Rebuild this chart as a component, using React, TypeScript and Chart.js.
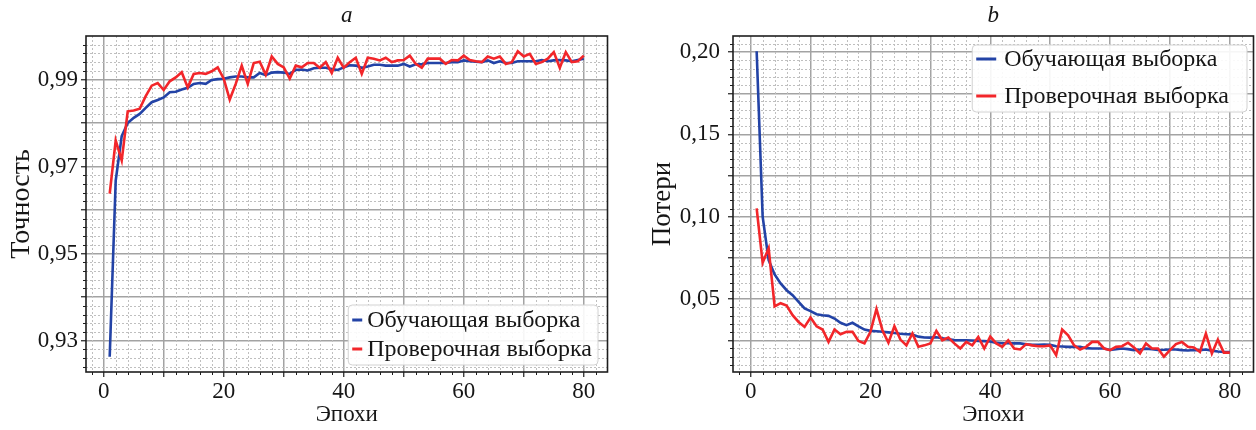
import React, { useEffect, useRef } from "react";
import { Chart, registerables } from "chart.js";

Chart.register(...registerables);

const SERIF = "'Liberation Serif', 'Times New Roman', Times, serif";
const TEXT = "#161616";
const BLUE = "#2343a6";
const RED = "#f2262a";
const MAJOR_GRID = "#a3a3a3";
const MINOR_GRID = "#bfbfbf";
const AXIS = "#1e1e1e";

const epochs = [
  1, 2, 3, 4, 5, 6, 7, 8, 9, 10, 11, 12, 13, 14, 15, 16, 17, 18, 19, 20,
  21, 22, 23, 24, 25, 26, 27, 28, 29, 30, 31, 32, 33, 34, 35, 36, 37, 38, 39, 40,
  41, 42, 43, 44, 45, 46, 47, 48, 49, 50, 51, 52, 53, 54, 55, 56, 57, 58, 59, 60,
  61, 62, 63, 64, 65, 66, 67, 68, 69, 70, 71, 72, 73, 74, 75, 76, 77, 78, 79, 80,
];

const seriesLabels = ["Обучающая выборка", "Проверочная выборка"];

const accTrain = [
  0.9263, 0.9668, 0.977, 0.98, 0.9812, 0.9821, 0.9835, 0.9848, 0.9853, 0.9859,
  0.9871, 0.9872, 0.9877, 0.9881, 0.989, 0.9892, 0.989, 0.9899, 0.9901, 0.9902,
  0.9905, 0.9907, 0.9907, 0.9905, 0.9905, 0.9915, 0.991, 0.9916, 0.9917, 0.9916,
  0.9913, 0.9922, 0.9923, 0.9921, 0.9926, 0.9927, 0.9927, 0.9924, 0.9922, 0.9928,
  0.9933, 0.9932, 0.9927, 0.993, 0.9934, 0.9934, 0.9932, 0.9932, 0.9932, 0.9936,
  0.993, 0.9935, 0.9935, 0.9938, 0.9938, 0.9938, 0.9938, 0.994, 0.994, 0.9944,
  0.9942, 0.9941, 0.994, 0.9944, 0.9938, 0.9942, 0.9938, 0.9938, 0.9942, 0.9942,
  0.9942, 0.9942, 0.9945, 0.9942, 0.9944, 0.9945, 0.9944, 0.9942, 0.9945, 0.9948,
];

const accVal = [
  0.9638, 0.976, 0.9714, 0.9827, 0.9829, 0.9833, 0.9862, 0.9886, 0.9892, 0.9876,
  0.9896, 0.9905, 0.9917, 0.9882, 0.9913, 0.9915, 0.9913, 0.9919, 0.9928, 0.9902,
  0.9854, 0.989, 0.9932, 0.989, 0.9938, 0.9941, 0.9911, 0.9953, 0.9936, 0.9928,
  0.9902, 0.9932, 0.9928, 0.9938, 0.9938, 0.9927, 0.994, 0.9915, 0.995, 0.9927,
  0.994, 0.995, 0.9913, 0.995, 0.9948, 0.9944, 0.995, 0.994, 0.9944, 0.9945,
  0.9955, 0.9936, 0.9927, 0.9948, 0.9948, 0.9948, 0.9936, 0.9945, 0.9944, 0.9955,
  0.9945, 0.9942, 0.994, 0.9953, 0.9948, 0.9953, 0.9936, 0.994, 0.9965, 0.9953,
  0.9959, 0.9936, 0.994, 0.9948, 0.9963, 0.9927, 0.9963, 0.994, 0.9942, 0.9955,
];

const lossTrain = [
  0.2005, 0.1, 0.0737, 0.065, 0.0595, 0.0554, 0.0524, 0.0483, 0.0443, 0.0427,
  0.0408, 0.0402, 0.0398, 0.0382, 0.0356, 0.0342, 0.0356, 0.0335, 0.0315, 0.0307,
  0.0305, 0.0302, 0.0298, 0.0294, 0.029, 0.0287, 0.0285, 0.0272, 0.0267, 0.0266,
  0.0268, 0.0262, 0.0256, 0.0251, 0.025, 0.025, 0.0249, 0.0246, 0.0245, 0.0242,
  0.0234, 0.0232, 0.0232, 0.0231, 0.0231, 0.0225, 0.0222, 0.0222, 0.0224, 0.0222,
  0.0214, 0.0212, 0.021, 0.021, 0.021, 0.0202, 0.02, 0.02, 0.02, 0.0191,
  0.0195, 0.02, 0.0196, 0.019, 0.0194, 0.0199, 0.0195, 0.0191, 0.0192, 0.0194,
  0.0194, 0.019, 0.0188, 0.0191, 0.019, 0.0194, 0.0187, 0.0182, 0.0179, 0.0179,
];

const lossVal = [
  0.1051, 0.072, 0.0808, 0.0455, 0.0475, 0.0461, 0.0402, 0.0361, 0.0331, 0.0388,
  0.0335, 0.0315, 0.024, 0.0315, 0.0287, 0.0301, 0.0301, 0.0246, 0.0231, 0.0301,
  0.044, 0.0311, 0.0235, 0.0335, 0.0254, 0.0219, 0.0291, 0.021, 0.0219, 0.0231,
  0.0307, 0.025, 0.0266, 0.0231, 0.02, 0.024, 0.0219, 0.027, 0.02, 0.0272,
  0.0231, 0.021, 0.025, 0.02, 0.0194, 0.0227, 0.0219, 0.0214, 0.0214, 0.0219,
  0.016, 0.0315, 0.028, 0.0219, 0.0194, 0.021, 0.024, 0.024, 0.02, 0.019,
  0.021, 0.0214, 0.0235, 0.0206, 0.017, 0.0231, 0.02, 0.02, 0.015, 0.019,
  0.0227, 0.024, 0.021, 0.0206, 0.0179, 0.0291, 0.017, 0.0254, 0.0175, 0.0175,
];

const xMajorTicks = [0, 10, 20, 30, 40, 50, 60, 70, 80];
const xLabelTicks = [0, 20, 40, 60, 80];
const accMajorTicks = [0.93, 0.94, 0.95, 0.96, 0.97, 0.98, 0.99];
const accLabelTicks = [0.93, 0.95, 0.97, 0.99];
const lossMajorTicks = [0.025, 0.05, 0.075, 0.1, 0.125, 0.15, 0.175, 0.2];
const lossLabelTicks = [0.05, 0.1, 0.15, 0.2];

function paddedRange(arrays: number[][]) {
  let lo = Infinity;
  let hi = -Infinity;
  arrays.forEach((arr) =>
    arr.forEach((v) => {
      if (v < lo) lo = v;
      if (v > hi) hi = v;
    })
  );
  const m = (hi - lo) * 0.05;
  return { min: lo - m, max: hi + m };
}

const has = (list: number[], v: number) => list.some((t) => Math.abs(t - v) < 1e-9);
const commaFmt = (v: number) => v.toFixed(2).replace(".", ",");

const gridPlugin = {
  id: "mplGrid",
  beforeDatasetsDraw(chart: any, _a: any, o: any) {
    const { ctx, chartArea: a, scales } = chart;
    const x = scales.x;
    const y = scales.y;
    const isMajor = (v: number, step: number) => Math.abs(v / step - Math.round(v / step)) < 1e-6;
    ctx.save();
    ctx.beginPath();
    ctx.rect(a.left, a.top, a.width, a.height);
    ctx.clip();
    ctx.strokeStyle = MINOR_GRID;
    ctx.lineWidth = 1;
    ctx.setLineDash([2, 2]);
    const kx0 = Math.ceil(x.min / o.xMinor - 1e-9);
    const kx1 = Math.floor(x.max / o.xMinor + 1e-9);
    for (let k = kx0; k <= kx1; k++) {
      const v = k * o.xMinor;
      if (isMajor(v, o.xMajor)) continue;
      const px = Math.round(x.getPixelForValue(v)) + 0.5;
      ctx.beginPath();
      ctx.moveTo(px, a.top);
      ctx.lineTo(px, a.bottom);
      ctx.stroke();
    }
    const ky0 = Math.ceil(y.min / o.yMinor - 1e-9);
    const ky1 = Math.floor(y.max / o.yMinor + 1e-9);
    for (let k = ky0; k <= ky1; k++) {
      const v = k * o.yMinor;
      if (isMajor(v, o.yMajor)) continue;
      const py = Math.round(y.getPixelForValue(v)) + 0.5;
      ctx.beginPath();
      ctx.moveTo(a.left, py);
      ctx.lineTo(a.right, py);
      ctx.stroke();
    }
    ctx.restore();
  },
  afterDraw(chart: any, _a: any, o: any) {
    const { ctx, chartArea: a, scales } = chart;
    const x = scales.x;
    const y = scales.y;
    const isMajor = (v: number, step: number) => Math.abs(v / step - Math.round(v / step)) < 1e-6;
    ctx.save();
    ctx.strokeStyle = AXIS;
    ctx.lineWidth = 1;
    const kx0 = Math.ceil(x.min / o.xMinor - 1e-9);
    const kx1 = Math.floor(x.max / o.xMinor + 1e-9);
    for (let k = kx0; k <= kx1; k++) {
      const v = k * o.xMinor;
      if (isMajor(v, o.xMajor)) continue;
      const px = Math.round(x.getPixelForValue(v)) + 0.5;
      ctx.beginPath();
      ctx.moveTo(px, a.bottom);
      ctx.lineTo(px, a.bottom + 3);
      ctx.stroke();
    }
    const ky0 = Math.ceil(y.min / o.yMinor - 1e-9);
    const ky1 = Math.floor(y.max / o.yMinor + 1e-9);
    for (let k = ky0; k <= ky1; k++) {
      const v = k * o.yMinor;
      if (isMajor(v, o.yMajor)) continue;
      const py = Math.round(y.getPixelForValue(v)) + 0.5;
      ctx.beginPath();
      ctx.moveTo(a.left - 3, py);
      ctx.lineTo(a.left, py);
      ctx.stroke();
    }
    ctx.lineWidth = 1.6;
    ctx.strokeStyle = AXIS;
    ctx.strokeRect(a.left, a.top, a.right - a.left, a.bottom - a.top);
    ctx.restore();
  },
};

const legendPlugin = {
  id: "boxLegend",
  afterDraw(chart: any, _a: any, o: any) {
    const { ctx, chartArea: a } = chart;
    const ds = chart.data.datasets;
    ctx.save();
    ctx.font = `${o.fontSize}px ${SERIF}`;
    let textW = 0;
    ds.forEach((d: any) => {
      textW = Math.max(textW, ctx.measureText(d.label).width);
    });
    const w = o.padLeft + o.markerLen + o.gap + textW + o.padRight;
    const h = o.padTop + o.rowGap * (ds.length - 1) + o.padBottom;
    const right = a.right - o.offsetRight;
    const left = right - w;
    const top = o.anchor === "top" ? a.top + o.offsetY : a.bottom - o.offsetY - h;
    const r = 4;
    ctx.beginPath();
    ctx.moveTo(left + r, top);
    ctx.lineTo(right - r, top);
    ctx.quadraticCurveTo(right, top, right, top + r);
    ctx.lineTo(right, top + h - r);
    ctx.quadraticCurveTo(right, top + h, right - r, top + h);
    ctx.lineTo(left + r, top + h);
    ctx.quadraticCurveTo(left, top + h, left, top + h - r);
    ctx.lineTo(left, top + r);
    ctx.quadraticCurveTo(left, top, left + r, top);
    ctx.closePath();
    ctx.fillStyle = "rgba(255,255,255,0.9)";
    ctx.fill();
    ctx.strokeStyle = "#d2d2d2";
    ctx.lineWidth = 1;
    ctx.stroke();
    ds.forEach((d: any, i: number) => {
      const cy = top + o.padTop + o.rowGap * i;
      ctx.strokeStyle = d.borderColor;
      ctx.lineWidth = 3;
      ctx.beginPath();
      ctx.moveTo(left + o.padLeft, cy);
      ctx.lineTo(left + o.padLeft + o.markerLen, cy);
      ctx.stroke();
      ctx.fillStyle = TEXT;
      ctx.textBaseline = "middle";
      ctx.textAlign = "left";
      ctx.fillText(d.label, left + o.padLeft + o.markerLen + o.gap, cy + 1);
    });
    ctx.restore();
  },
};

type Spec = {
  title: string;
  yTitle: string;
  train: number[];
  val: number[];
  yMajor: number[];
  yLabels: number[];
  yMajorStep: number;
  yMinorStep: number;
  yAxisWidth: number;
  yTitleSize: number;
  yTitlePad: number;
  yTickPad: number;
  padRight: number;
  legend: any;
};

function buildConfig(spec: Spec): any {
  const xr = paddedRange([epochs]);
  const yr = paddedRange([spec.train, spec.val]);
  const font = { family: SERIF, size: 23, weight: "normal" as const };
  return {
    type: "line",
    data: {
      datasets: [
        {
          label: seriesLabels[0],
          data: epochs.map((e, i) => ({ x: e, y: spec.train[i] })),
          borderColor: BLUE,
          backgroundColor: BLUE,
          borderWidth: 2.6,
          pointRadius: 0,
          tension: 0,
          order: 1,
        },
        {
          label: seriesLabels[1],
          data: epochs.map((e, i) => ({ x: e, y: spec.val[i] })),
          borderColor: RED,
          backgroundColor: RED,
          borderWidth: 2.6,
          pointRadius: 0,
          tension: 0,
          order: 0,
        },
      ],
    },
    options: {
      responsive: false,
      animation: false,
      events: [],
      layout: { padding: { left: 0, right: spec.padRight, top: 0, bottom: 0 } },
      plugins: {
        legend: { display: false },
        tooltip: { enabled: false },
        title: {
          display: true,
          text: spec.title,
          fullSize: false,
          color: TEXT,
          font: { family: SERIF, size: 23, style: "italic", weight: "normal" },
          padding: { top: 2, bottom: 6.4 },
        },
        mplGrid: { xMinor: 2, xMajor: 10, yMinor: spec.yMinorStep, yMajor: spec.yMajorStep },
        boxLegend: spec.legend,
      },
      scales: {
        x: {
          type: "linear",
          min: xr.min,
          max: xr.max,
          afterBuildTicks: (s: any) => {
            s.ticks = xMajorTicks.map((v) => ({ value: v }));
          },
          afterFit: (s: any) => {
            s.height = 58;
          },
          ticks: {
            autoSkip: false,
            maxRotation: 0,
            padding: 1,
            color: TEXT,
            font,
            callback: (v: number) => (has(xLabelTicks, v) ? String(v) : ""),
          },
          grid: { color: MAJOR_GRID, lineWidth: 1.5, tickLength: 5, tickColor: AXIS, tickWidth: 1.2 },
          border: { display: false },
          title: { display: true, text: "Эпохи", color: TEXT, font, padding: { top: 0, bottom: 1 } },
        },
        y: {
          type: "linear",
          min: yr.min,
          max: yr.max,
          afterBuildTicks: (s: any) => {
            s.ticks = spec.yMajor.map((v) => ({ value: v }));
          },
          afterFit: (s: any) => {
            s.width = spec.yAxisWidth;
          },
          ticks: {
            autoSkip: false,
            padding: spec.yTickPad,
            color: TEXT,
            font,
            callback: (v: number) => (has(spec.yLabels, v) ? commaFmt(v) : ""),
          },
          grid: { color: MAJOR_GRID, lineWidth: 1.5, tickLength: 5, tickColor: AXIS, tickWidth: 1.2 },
          border: { display: false },
          title: {
            display: true,
            text: spec.yTitle,
            color: TEXT,
            font: { family: SERIF, size: spec.yTitleSize, weight: "normal" },
            padding: { top: spec.yTitlePad, bottom: 0 },
          },
        },
      },
    },
    plugins: [gridPlugin, legendPlugin],
  };
}

const leftSpec: Spec = {
  title: "a",
  yTitle: "Точность",
  train: accTrain,
  val: accVal,
  yMajor: accMajorTicks,
  yLabels: accLabelTicks,
  yMajorStep: 0.01,
  yMinorStep: 0.002,
  yAxisWidth: 86,
  yTitleSize: 28,
  yTitlePad: 5,
  yTickPad: 3,
  padRight: 12.5,
  legend: {
    anchor: "bottom",
    fontSize: 24,
    offsetRight: 9.5,
    offsetY: 7,
    padLeft: 4,
    markerLen: 10,
    gap: 5,
    padRight: 6,
    padTop: 15,
    rowGap: 29,
    padBottom: 16,
  },
};

const rightSpec: Spec = {
  title: "b",
  yTitle: "Потери",
  train: lossTrain,
  val: lossVal,
  yMajor: lossMajorTicks,
  yLabels: lossLabelTicks,
  yMajorStep: 0.025,
  yMinorStep: 0.005,
  yAxisWidth: 107,
  yTitleSize: 27,
  yTitlePad: 21,
  yTickPad: 8,
  padRight: 2.5,
  legend: {
    anchor: "top",
    fontSize: 24,
    offsetRight: 6.5,
    offsetY: 9,
    padLeft: 4,
    markerLen: 20,
    gap: 8,
    padRight: 18,
    padTop: 14,
    rowGap: 37,
    padBottom: 16,
  },
};

function Panel({ spec, left, width }: { spec: Spec; left: number; width: number }) {
  const ref = useRef<HTMLCanvasElement>(null);
  useEffect(() => {
    const chart = new Chart(ref.current as HTMLCanvasElement, buildConfig(spec));
    return () => chart.destroy();
  }, [spec]);
  return (
    <canvas
      ref={ref}
      width={width}
      height={430}
      style={{ position: "absolute", left, top: 0, width, height: 430 }}
    />
  );
}

export default function App() {
  return (
    <div style={{ position: "absolute", left: 0, top: 0, width: 1256, height: 430, background: "#fff" }}>
      <Panel spec={leftSpec} left={0} width={620} />
      <Panel spec={rightSpec} left={626} width={630} />
    </div>
  );
}
